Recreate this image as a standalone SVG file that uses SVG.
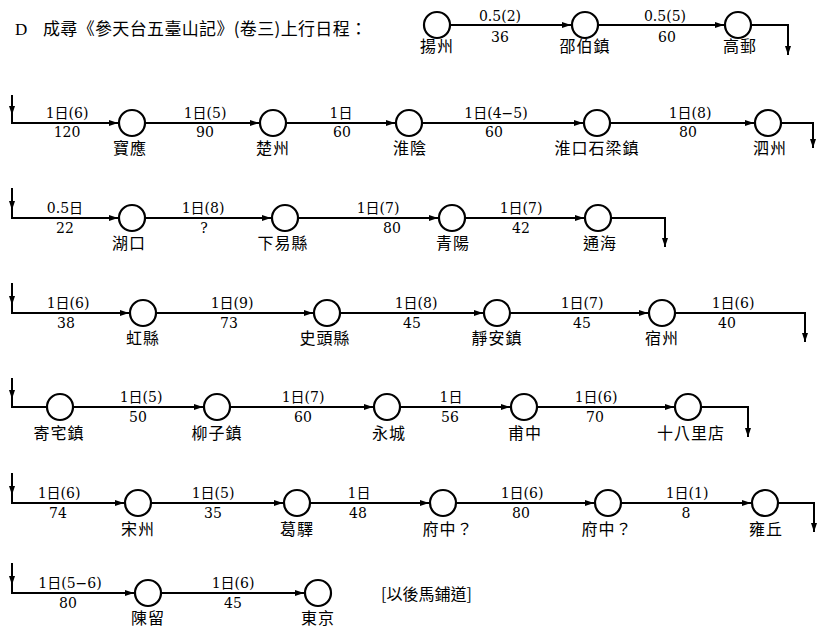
<svg xmlns="http://www.w3.org/2000/svg" width="817" height="634" viewBox="0 0 817 634">
<style>
.c{fill:#fff;stroke:#000;stroke-width:2.2}
.l{fill:none;stroke:#000;stroke-width:2}
.n{font-family:"Noto Sans CJK TC","Noto Sans CJK SC",sans-serif;font-size:16px;letter-spacing:1px;text-anchor:middle;fill:#000}
.e{font-family:"DejaVu Serif","Noto Sans CJK TC",serif;font-size:14px;text-anchor:middle;fill:#000}
.h{font-family:"Noto Sans CJK TC","Noto Sans CJK SC",sans-serif;font-size:17px;fill:#000}
</style>
<defs>
<marker id="ah" viewBox="0 0 9 6" refX="9" refY="3" markerWidth="9" markerHeight="6" markerUnits="userSpaceOnUse" orient="auto"><path d="M0,0 L9,3 L0,6 z" fill="#000"/></marker>
</defs>
<rect width="817" height="634" fill="#fff"/>
<g id="title">
<text x="15" y="35" style="font-family:'Liberation Serif',serif;font-size:17px">D</text>
<text class="h" x="43" y="35" textLength="324" lengthAdjust="spacing">成尋《參天台五臺山記》(卷三)上行日程：</text>
</g>
<g id="connectors">
<!-- row 1 -->
<path class="l" d="M451,25 H571" marker-end="url(#ah)"/><text class="e" x="500" y="21">0.5(2)</text><text class="e" x="500" y="42">36</text>
<path class="l" d="M599,25 H724" marker-end="url(#ah)"/><text class="e" x="665" y="21">0.5(5)</text><text class="e" x="667" y="42">60</text>
<path class="l" d="M752,25 H788 V55" marker-end="url(#ah)"/>
<!-- row 2 -->
<path class="l" d="M12,95 V115" marker-end="url(#ah)"/>
<path class="l" d="M12,114 V123 H118" marker-end="url(#ah)"/><text class="e" x="67" y="118">1日(6)</text><text class="e" x="67" y="137">120</text>
<path class="l" d="M146,123 H259" marker-end="url(#ah)"/><text class="e" x="205" y="118">1日(5)</text><text class="e" x="205" y="137">90</text>
<path class="l" d="M287,123 H395" marker-end="url(#ah)"/><text class="e" x="341" y="118">1日</text><text class="e" x="342" y="137">60</text>
<path class="l" d="M423,123 H583" marker-end="url(#ah)"/><text class="e" x="496" y="118">1日(4−5)</text><text class="e" x="494" y="137">60</text>
<path class="l" d="M611,123 H754" marker-end="url(#ah)"/><text class="e" x="690" y="118">1日(8)</text><text class="e" x="688" y="137">80</text>
<path class="l" d="M782,123 H813 V148" marker-end="url(#ah)"/>
<!-- row 3 -->
<path class="l" d="M12,188 V210" marker-end="url(#ah)"/>
<path class="l" d="M12,209 V218 H118" marker-end="url(#ah)"/><text class="e" x="65" y="213">0.5日</text><text class="e" x="65" y="233">22</text>
<path class="l" d="M146,218 H271" marker-end="url(#ah)"/><text class="e" x="203" y="213">1日(8)</text><text class="e" x="204" y="233">?</text>
<path class="l" d="M299,218 H438" marker-end="url(#ah)"/><text class="e" x="378" y="213">1日(7)</text><text class="e" x="392" y="233">80</text>
<path class="l" d="M466,218 H584" marker-end="url(#ah)"/><text class="e" x="521" y="213">1日(7)</text><text class="e" x="521" y="233">42</text>
<path class="l" d="M612,218 H665 V247" marker-end="url(#ah)"/>
<!-- row 4 -->
<path class="l" d="M12,283 V305" marker-end="url(#ah)"/>
<path class="l" d="M12,304 V313 H129" marker-end="url(#ah)"/><text class="e" x="68" y="308">1日(6)</text><text class="e" x="66" y="328">38</text>
<path class="l" d="M157,313 H313" marker-end="url(#ah)"/><text class="e" x="232" y="308">1日(9)</text><text class="e" x="229" y="328">73</text>
<path class="l" d="M341,313 H483" marker-end="url(#ah)"/><text class="e" x="416" y="308">1日(8)</text><text class="e" x="412" y="328">45</text>
<path class="l" d="M511,313 H648" marker-end="url(#ah)"/><text class="e" x="582" y="308">1日(7)</text><text class="e" x="582" y="328">45</text>
<path class="l" d="M676,313 H805 V342" marker-end="url(#ah)"/><text class="e" x="733" y="308">1日(6)</text><text class="e" x="727" y="328">40</text>
<!-- row 5 -->
<path class="l" d="M12,378 V399" marker-end="url(#ah)"/>
<path class="l" d="M12,398 V407 H47"/>
<path class="l" d="M74,407 H203" marker-end="url(#ah)"/><text class="e" x="141" y="402">1日(5)</text><text class="e" x="138" y="422">50</text>
<path class="l" d="M231,407 H373" marker-end="url(#ah)"/><text class="e" x="303" y="402">1日(7)</text><text class="e" x="303" y="422">60</text>
<path class="l" d="M401,407 H510" marker-end="url(#ah)"/><text class="e" x="451" y="402">1日</text><text class="e" x="450" y="422">56</text>
<path class="l" d="M538,407 H674" marker-end="url(#ah)"/><text class="e" x="596" y="402">1日(6)</text><text class="e" x="595" y="422">70</text>
<path class="l" d="M702,407 H748 V437" marker-end="url(#ah)"/>
<!-- row 6 -->
<path class="l" d="M12,473 V495" marker-end="url(#ah)"/>
<path class="l" d="M12,494 V503 H124" marker-end="url(#ah)"/><text class="e" x="59" y="498">1日(6)</text><text class="e" x="58" y="518">74</text>
<path class="l" d="M152,503 H283" marker-end="url(#ah)"/><text class="e" x="213" y="498">1日(5)</text><text class="e" x="213" y="518">35</text>
<path class="l" d="M311,503 H429" marker-end="url(#ah)"/><text class="e" x="359" y="498">1日</text><text class="e" x="358" y="518">48</text>
<path class="l" d="M457,503 H594" marker-end="url(#ah)"/><text class="e" x="522" y="498">1日(6)</text><text class="e" x="521" y="518">80</text>
<path class="l" d="M622,503 H751" marker-end="url(#ah)"/><text class="e" x="687" y="498">1日(1)</text><text class="e" x="686" y="518">8</text>
<path class="l" d="M779,503 H814 V532" marker-end="url(#ah)"/>
<!-- row 7 -->
<path class="l" d="M12,563 V585" marker-end="url(#ah)"/>
<path class="l" d="M12,584 V593 H134" marker-end="url(#ah)"/><text class="e" x="70" y="588">1日(5−6)</text><text class="e" x="68" y="608">80</text>
<path class="l" d="M162,593 H304" marker-end="url(#ah)"/><text class="e" x="233" y="588">1日(6)</text><text class="e" x="233" y="608">45</text>
</g>
<g id="n-yangzhou"><circle class="c" cx="437" cy="25" r="13"/><text class="n" x="437" y="52">揚州</text></g>
<g id="n-shaobozhen"><circle class="c" cx="585" cy="25" r="13"/><text class="n" x="585" y="52">邵伯鎮</text></g>
<g id="n-gaoyou"><circle class="c" cx="738" cy="25" r="13"/><text class="n" x="740" y="52">高郵</text></g>
<g id="n-baoying"><circle class="c" cx="132" cy="123" r="13"/><text class="n" x="130" y="154">寶應</text></g>
<g id="n-chuzhou"><circle class="c" cx="273" cy="123" r="13"/><text class="n" x="273" y="154">楚州</text></g>
<g id="n-huaiyin"><circle class="c" cx="409" cy="123" r="13"/><text class="n" x="410" y="154">淮陰</text></g>
<g id="n-huaikou"><circle class="c" cx="597" cy="123" r="13"/><text class="n" x="597" y="154">淮口石梁鎮</text></g>
<g id="n-sizhou"><circle class="c" cx="768" cy="123" r="13"/><text class="n" x="770" y="154">泗州</text></g>
<g id="n-hukou"><circle class="c" cx="132" cy="218" r="13"/><text class="n" x="129" y="249">湖口</text></g>
<g id="n-xiayixian"><circle class="c" cx="285" cy="218" r="13"/><text class="n" x="283" y="249">下易縣</text></g>
<g id="n-qingyang"><circle class="c" cx="452" cy="218" r="13"/><text class="n" x="453" y="249">青陽</text></g>
<g id="n-tonghai"><circle class="c" cx="598" cy="218" r="13"/><text class="n" x="600" y="249">通海</text></g>
<g id="n-hongxian"><circle class="c" cx="143" cy="313" r="13"/><text class="n" x="143" y="344">虹縣</text></g>
<g id="n-shitouxian"><circle class="c" cx="327" cy="313" r="13"/><text class="n" x="325" y="344">史頭縣</text></g>
<g id="n-jinganzhen"><circle class="c" cx="497" cy="313" r="13"/><text class="n" x="497" y="344">靜安鎮</text></g>
<g id="n-suzhou"><circle class="c" cx="662" cy="313" r="13"/><text class="n" x="662" y="344">宿州</text></g>
<g id="n-jizhaizhen"><circle class="c" cx="60" cy="407" r="13"/><text class="n" x="59" y="439">寄宅鎮</text></g>
<g id="n-liuzizhen"><circle class="c" cx="217" cy="407" r="13"/><text class="n" x="217" y="439">柳子鎮</text></g>
<g id="n-yongcheng"><circle class="c" cx="387" cy="407" r="13"/><text class="n" x="389" y="439">永城</text></g>
<g id="n-fuzhong1"><circle class="c" cx="524" cy="407" r="13"/><text class="n" x="525" y="439">甫中</text></g>
<g id="n-shibalidian"><circle class="c" cx="688" cy="407" r="13"/><text class="n" x="691" y="439">十八里店</text></g>
<g id="n-songzhou"><circle class="c" cx="138" cy="503" r="13"/><text class="n" x="138" y="535">宋州</text></g>
<g id="n-geyi"><circle class="c" cx="297" cy="503" r="13"/><text class="n" x="297" y="535">葛驛</text></g>
<g id="n-fuzhong2"><circle class="c" cx="443" cy="503" r="13"/><text class="n" x="448" y="535">府中？</text></g>
<g id="n-fuzhong3"><circle class="c" cx="608" cy="503" r="13"/><text class="n" x="607" y="535">府中？</text></g>
<g id="n-yongqiu"><circle class="c" cx="765" cy="503" r="13"/><text class="n" x="766" y="535">雍丘</text></g>
<g id="n-chenliu"><circle class="c" cx="148" cy="593" r="13"/><text class="n" x="148" y="624">陳留</text></g>
<g id="n-dongjing"><circle class="c" cx="318" cy="593" r="13"/><text class="n" x="318" y="624">東京</text></g>
<g id="note"><text class="n" x="381" y="600" style="text-anchor:start;letter-spacing:0">[以後馬鋪道]</text></g>
</svg>
